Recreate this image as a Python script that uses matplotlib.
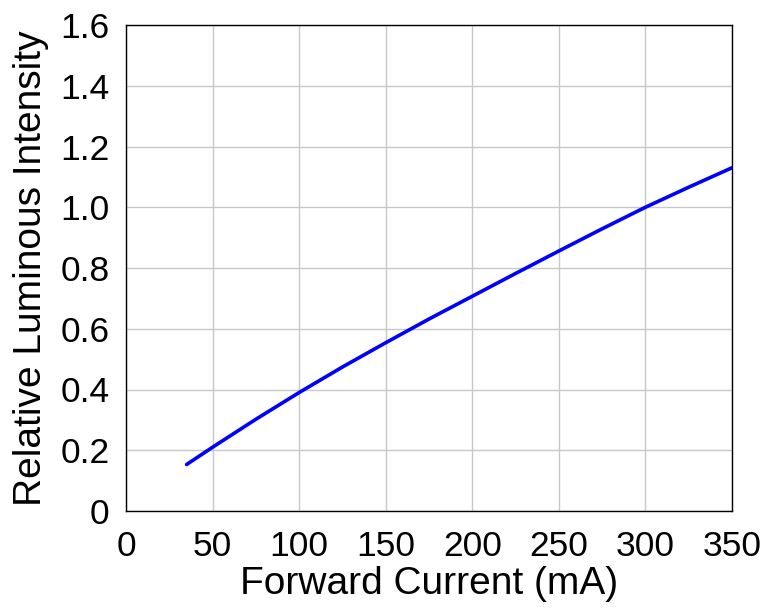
import matplotlib
matplotlib.use('Agg')
from matplotlib import pyplot as plt

plt.rcParams['font.family'] = ['Liberation Sans', 'DejaVu Sans']

# forward current (mA) vs relative luminous intensity
current = [35, 50, 75, 100, 125, 150, 175, 200, 225, 250, 275, 300, 325, 350]
intensity = [0.153, 0.21, 0.302, 0.39, 0.474, 0.554, 0.632, 0.707, 0.782, 0.856, 0.929, 1.0, 1.066, 1.13]

x_ticks = [0, 50, 100, 150, 200, 250, 300, 350]
y_ticks = [0, 0.2, 0.4, 0.6, 0.8, 1.0, 1.2, 1.4, 1.6]
y_labels = ['0', '0.2', '0.4', '0.6', '0.8', '1.0', '1.2', '1.4', '1.6']

fig = plt.figure(figsize=(7.66, 6.08), dpi=100)
ax = fig.add_axes([126 / 766, 1 - 511 / 608, 606 / 766, 486 / 608])

ax.plot(current, intensity, color='#0000ff', linewidth=2.6, solid_capstyle='round')

ax.set_xlim(0, 350)
ax.set_ylim(0, 1.6)
ax.set_xticks(x_ticks)
ax.set_yticks(y_ticks)
ax.set_yticklabels(y_labels)
ax.grid(True, color='#c8c8c8', linewidth=1)
ax.set_axisbelow(True)
ax.tick_params(length=0, labelsize=25.5)
ax.tick_params(axis='x', pad=14)
ax.tick_params(axis='y', pad=12)
for s in ax.spines.values():
    s.set_color('black')
    s.set_linewidth(1)

ax.set_xlabel('Forward Current (mA)', fontsize=28, labelpad=2)
ax.set_ylabel('Relative Luminous Intensity', fontsize=28, labelpad=8)

fig.savefig('out.png', dpi=100)
